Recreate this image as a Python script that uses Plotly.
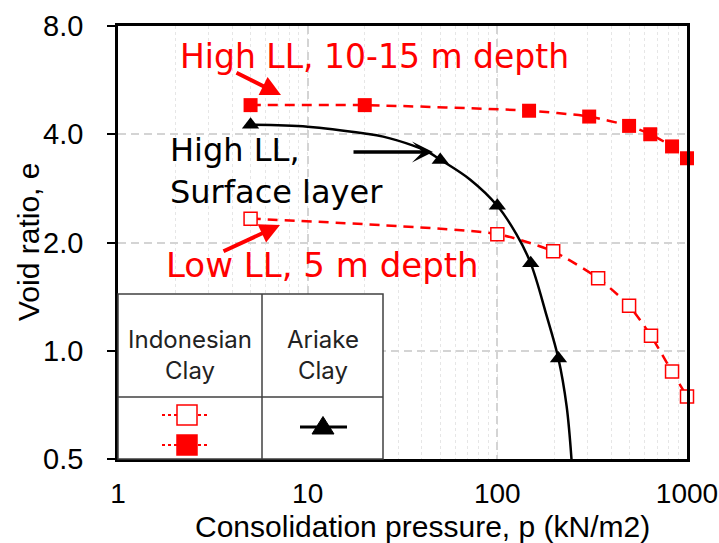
import plotly.graph_objects as go

# ---------------- data ----------------
p_high = [5, 20, 147, 305, 495, 640, 834, 1000]
e_high = [4.82, 4.82, 4.65, 4.48, 4.22, 4.00, 3.70, 3.43]

p_low = [5, 100, 197, 340, 495, 646, 834, 1000]
e_low = [2.33, 2.11, 1.89, 1.59, 1.335, 1.10, 0.875, 0.746]

p_ariake = [5, 50, 100, 150, 210]
e_ariake = [4.25, 3.39, 2.53, 1.75, 0.952]

p_ariake_curve = [5, 10, 20, 25, 36, 42, 50, 72, 100, 126, 150, 182, 210, 232, 246]
e_ariake_curve = [4.25, 4.20, 4.02, 3.94, 3.72, 3.60, 3.40, 2.99, 2.53, 2.11, 1.75, 1.25, 0.95, 0.70, 0.5]

x_tickvals = [1, 10, 100, 1000]
x_ticktext = ["1", "10", "100", "1000"]
y_tickvals = [0.5, 1, 2, 4, 8]
y_ticktext = ["0.5", "1.0", "2.0", "4.0", "8.0"]

# ---------------- layout geometry (pixels) ----------------
W, H = 719, 543
L, R, T, B = 118, 687, 26, 459
RED = "#ff0000"
ANN_FONT = "DejaVu Sans"
AX_FONT = "Liberation Sans, Arial"


def px(x):
    return (x - L) / (R - L)


def py(y):
    return (B - y) / (B - T)


fig = go.Figure()

fig.add_trace(go.Scatter(
    x=p_low, y=e_low, mode="lines+markers", cliponaxis=False,
    line=dict(color=RED, width=2.5, dash="10px,7px", shape="spline", smoothing=0.6),
    marker=dict(symbol="square", size=13, color="white", line=dict(color=RED, width=1.5)),
    showlegend=False))

fig.add_trace(go.Scatter(
    x=p_high, y=e_high, mode="lines+markers", cliponaxis=False,
    line=dict(color=RED, width=2.5, dash="10px,7px", shape="spline", smoothing=0.6),
    marker=dict(symbol="square", size=14, color=RED, line=dict(width=0)),
    showlegend=False))

fig.add_trace(go.Scatter(
    x=p_ariake_curve, y=e_ariake_curve, mode="lines",
    line=dict(color="black", width=2.5, shape="spline"),
    showlegend=False))

fig.add_trace(go.Scatter(
    x=p_ariake, y=e_ariake, mode="markers", cliponaxis=False,
    marker=dict(symbol="triangle-up", size=15, color="black"),
    showlegend=False))

# ---------------- table-style legend (shapes) ----------------
shapes = []
TL = dict(color="#404040", width=1.5)
shapes.append(dict(type="rect", xref="paper", yref="paper", x0=px(118), x1=px(383),
                   y0=py(459), y1=py(294), line=TL, fillcolor="white", layer="above"))
shapes.append(dict(type="line", xref="paper", yref="paper", x0=px(262), x1=px(262),
                   y0=py(459), y1=py(294), line=TL, layer="above"))
shapes.append(dict(type="line", xref="paper", yref="paper", x0=px(118), x1=px(383),
                   y0=py(397), y1=py(397), line=TL, layer="above"))
# Indonesian clay symbols
for yy, fill in [(415, "white"), (445, RED)]:
    shapes.append(dict(type="line", xref="paper", yref="paper", x0=px(162), x1=px(208),
                       y0=py(yy), y1=py(yy), line=dict(color=RED, width=2, dash="dot"), layer="above"))
    shapes.append(dict(type="rect", xref="paper", yref="paper", x0=px(177), x1=px(197),
                       y0=py(yy + 10), y1=py(yy - 10), line=dict(color=RED, width=1.5),
                       fillcolor=fill, layer="above"))
# Ariake clay symbol
shapes.append(dict(type="line", xref="paper", yref="paper", x0=px(300), x1=px(347),
                   y0=py(427), y1=py(427), line=dict(color="black", width=3), layer="above"))
tri = "M {:.5f} {:.5f} L {:.5f} {:.5f} L {:.5f} {:.5f} Z".format(
    px(312), py(434), px(334), py(434), px(323), py(416.5))
shapes.append(dict(type="path", xref="paper", yref="paper", path=tri,
                   fillcolor="black", line=dict(color="black", width=1), layer="above"))

# ---------------- annotations ----------------
ann = []
ann.append(dict(text="High LL, 10-15 m depth", xref="paper", yref="paper",
                x=px(374), y=py(56), xanchor="center", yanchor="middle", showarrow=False,
                font=dict(family=ANN_FONT, size=33, color=RED)))
ann.append(dict(text="Low LL, 5 m depth", xref="paper", yref="paper",
                x=px(322), y=py(265), xanchor="center", yanchor="middle", showarrow=False,
                font=dict(family=ANN_FONT, size=34, color=RED)))
ann.append(dict(text="High LL,<br>Surface layer", xref="paper", yref="paper",
                x=px(168), y=py(171), xanchor="left", yanchor="middle", align="left",
                showarrow=False, font=dict(family=ANN_FONT, size=32, color="black")))
ann.append(dict(text="Indonesian<br>Clay", xref="paper", yref="paper",
                x=px(190), y=py(355), xanchor="center", yanchor="middle", showarrow=False,
                font=dict(family="Inter", size=24, color="#222222")))
ann.append(dict(text="Ariake<br>Clay", xref="paper", yref="paper",
                x=px(323), y=py(355), xanchor="center", yanchor="middle", showarrow=False,
                font=dict(family="Inter", size=24, color="#222222")))
# arrows
ann.append(dict(text="", xref="paper", yref="paper", x=px(281), y=py(95), ax=-46, ay=-23,
                showarrow=True, arrowhead=2, arrowsize=1, arrowwidth=4, arrowcolor=RED,
                standoff=0, startstandoff=0))
ann.append(dict(text="", xref="paper", yref="paper", x=px(280), y=py(225), ax=-58, ay=27,
                showarrow=True, arrowhead=2, arrowsize=1, arrowwidth=4, arrowcolor=RED,
                standoff=0, startstandoff=0))
ann.append(dict(text="", xref="paper", yref="paper", x=px(433), y=py(152), ax=-81, ay=0,
                showarrow=True, arrowhead=3, arrowsize=1, arrowwidth=3.5, arrowcolor="black",
                standoff=0, startstandoff=0))
# axis titles
ann.append(dict(text="Consolidation pressure, p (kN/m2)", xref="paper", yref="paper",
                x=px(422), y=py(526), xanchor="center", yanchor="middle", showarrow=False,
                font=dict(family=AX_FONT, size=30, color="black")))
ann.append(dict(text="Void ratio, e", xref="paper", yref="paper", textangle=-90,
                x=px(29), y=py(242), xanchor="center", yanchor="middle", showarrow=False,
                font=dict(family=AX_FONT, size=30, color="black")))

GRID = "#d4d4d4"
fig.update_layout(
    width=W, height=H,
    margin=dict(l=L, r=W - R, t=T, b=H - B, autoexpand=False),
    paper_bgcolor="white", plot_bgcolor="white",
    shapes=shapes, annotations=ann,
    xaxis=dict(type="log", range=[0, 3], tickvals=x_tickvals, ticktext=x_ticktext,
               automargin=False,
               showgrid=True, gridcolor=GRID, gridwidth=1.5, griddash="8px,5px",
               showline=True, linecolor="black", linewidth=2.5, mirror=True,
               ticks="", ticklabelstandoff=8,
               tickfont=dict(family=AX_FONT, size=28, color="black"),
               minor=dict(dtick="D1", showgrid=True, gridcolor="#e6e6e6",
                          griddash="dot", gridwidth=1),
               zeroline=False),
    yaxis=dict(type="log", range=[-0.30103, 0.90309], tickvals=y_tickvals, ticktext=y_ticktext,
               automargin=False,
               showgrid=True, gridcolor=GRID, gridwidth=1.5, griddash="8px,5px",
               showline=True, linecolor="black", linewidth=2.5, mirror=True,
               ticks="outside", ticklen=8, tickwidth=2, tickcolor="black",
               ticklabelstandoff=18,
               tickfont=dict(family=AX_FONT, size=29, color="black"),
               zeroline=False),
)

fig.write_html("out.html")
